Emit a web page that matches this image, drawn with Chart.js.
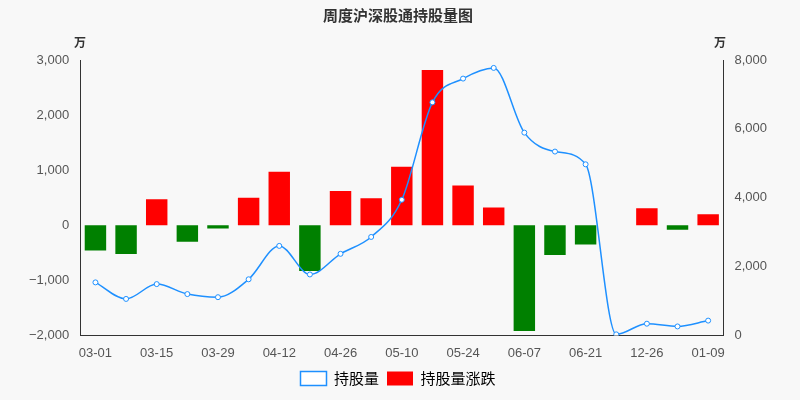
<!DOCTYPE html>
<html>
<head>
<meta charset="utf-8">
<script src="https://cdn.jsdelivr.net/npm/chart.js@4"></script>
<style>
  body { margin: 0; background: #f8f8f8; }
  #wrap { width: 800px; height: 400px; }
</style>
</head>
<body>
<div id="wrap"><canvas id="chart"></canvas></div>
<script>
const dates = ['03-01','03-08','03-15','03-22','03-29','04-05','04-12','04-19','04-26','05-03','05-10',
  '05-17','05-24','05-31','06-07','06-14','06-21','12-19','12-26','01-02','01-09'];
const holdings = [1540,1060,1490,1200,1110,1630,2600,1770,2370,2860,3940,
  6770,7460,7770,5890,5340,4970,30,340,260,430];
const changes = [-460,-520,470,-300,-60,500,970,-830,620,490,1060,
  2820,720,320,-1920,-540,-350,0,310,-80,200];

const unitLabels = {
  id: 'unitLabels',
  afterDraw(chart) {
    const ctx = chart.ctx;
    ctx.save();
    ctx.font = 'bold 12px "Noto Sans CJK SC"';
    ctx.fillStyle = '#333';
    ctx.textAlign = 'center';
    ctx.fillText('万', 80, 42);
    ctx.fillText('万', 720, 42);
    ctx.restore();
  }
};

new Chart(document.getElementById('chart').getContext('2d'), {
  data: {
    labels: dates,
    datasets: [{
      type: 'line',
      label: '持股量',
      data: holdings,
      yAxisID: 'y1',
      borderColor: '#1e90ff',
      backgroundColor: '#fff',
      borderWidth: 1.5,
      pointRadius: 2.5,
      pointBorderWidth: 1,
      pointBackgroundColor: '#fff',
      pointBorderColor: '#1e90ff',
      cubicInterpolationMode: 'monotone',
      order: 0
    }, {
      type: 'bar',
      label: '持股量涨跌',
      data: changes,
      yAxisID: 'y',
      backgroundColor: changes.map(v => v >= 0 ? '#ff0000' : '#008000'),
      categoryPercentage: 0.7,
      barPercentage: 1,
      order: 1
    }]
  },
  options: {
    responsive: true,
    maintainAspectRatio: false,
    animation: false,
    layout: { padding: { left: 26, right: 30, top: 0, bottom: 4 } },
    plugins: {
      title: {
        display: true, text: '周度沪深股通持股量图', color: '#333',
        font: { size: 15, weight: 'bold', family: '"Noto Sans CJK SC"' },
        padding: { top: 6, bottom: 36 }
      },
      legend: {
        position: 'bottom',
        labels: {
          color: '#333', font: { size: 15, family: '"Noto Sans CJK SC"' },
          boxWidth: 26, boxHeight: 14, padding: 8,
          generateLabels(chart) {
            return [
              { text: '持股量', fillStyle: '#fff', strokeStyle: '#1e90ff', lineWidth: 1.5, datasetIndex: 0 },
              { text: '持股量涨跌', fillStyle: '#ff0000', strokeStyle: '#ff0000', lineWidth: 0, datasetIndex: 1 }
            ];
          }
        }
      }
    },
    scales: {
      x: {
        grid: { display: false },
        border: { color: '#333' },
        ticks: {
          autoSkip: false, maxRotation: 0, color: '#555', font: { size: 13 }, padding: 2,
          callback(v, i) { return i % 2 === 0 ? dates[i] : ''; }
        }
      },
      y: {
        position: 'left', min: -2000, max: 3000,
        grid: { display: false },
        border: { display: true, color: '#333' },
        ticks: { stepSize: 1000, color: '#555', font: { size: 13 },
          callback: v => v.toLocaleString('en-US').replace('-', '−') }
      },
      y1: {
        position: 'right', min: 0, max: 8000,
        grid: { display: false },
        border: { display: true, color: '#333' },
        ticks: { stepSize: 2000, color: '#555', font: { size: 13 },
          callback: v => v.toLocaleString('en-US') }
      }
    }
  },
  plugins: [unitLabels]
});
</script>
</body>
</html>
